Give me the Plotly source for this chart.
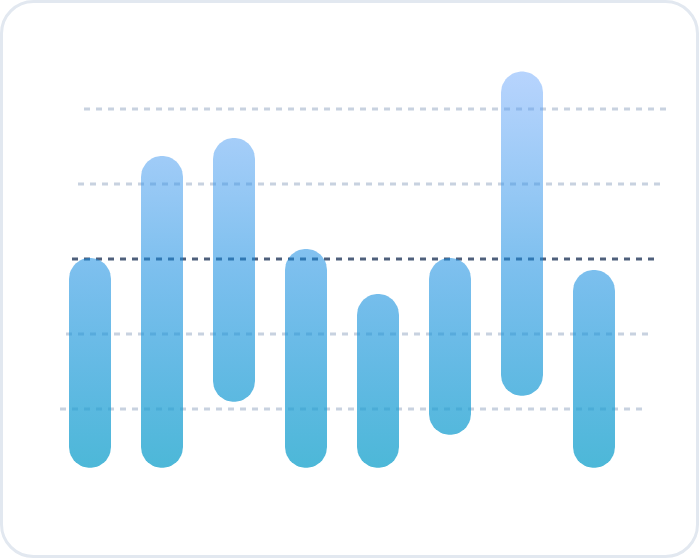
"""
Capsule range chart
Rounded floating bars with a shared vertical gradient and slanted dashed guides
"""
import numpy as np
import plotly.graph_objects as go

# data: each bar spans low -> high (values on the hidden y axis)
categories = ['A', 'B', 'C', 'D', 'E', 'F', 'G', 'H']
low_values = [4.3, 4.3, 21.9, 4.3, 4.3, 13.1, 23.5, 4.3]
high_values = [60.3, 87.5, 92.3, 62.7, 50.7, 60.3, 110.0, 57.1]

# guide lines
guide_levels = [20, 40, 60, 80, 100]
highlight_level = 60

W, H = 699, 558
X_RANGE = [-1.25, 8.4583]
Y_RANGE = [-19.73, 129.07]

BAR_PX = 42
px_per_x = W / (X_RANGE[1] - X_RANGE[0])
px_per_y = H / (Y_RANGE[1] - Y_RANGE[0])
rx = BAR_PX / 2 / px_per_x
ry = BAR_PX / 2 / px_per_y


def capsule(xc, lo, hi, n=24):
    """Outline of a vertical pill shape in data coordinates"""
    t_top = np.linspace(0, np.pi, n)
    t_bot = np.linspace(np.pi, 2 * np.pi, n)
    xs = list(xc + rx * np.cos(t_top)) + list(xc + rx * np.cos(t_bot))
    ys = list(hi - ry + ry * np.sin(t_top)) + list(lo + ry + ry * np.sin(t_bot))
    xs.append(xs[0])
    ys.append(ys[0])
    return xs, ys


fig = go.Figure()

# slanted dashed guides first, so the translucent bars sit over them
for lvl in guide_levels:
    shift = (lvl - 20) / 20 * 6 / px_per_x
    dark = lvl == highlight_level
    fig.add_trace(go.Scatter(
        x=[-0.4167 + shift, 7.72 + shift],
        y=[lvl, lvl],
        mode='lines',
        line=dict(color='#4f607c' if dark else '#c8d2e0', width=2.8, dash='6px,6px'),
        showlegend=False,
        hoverinfo='skip'
    ))

for i, (lo, hi) in enumerate(zip(low_values, high_values)):
    xs, ys = capsule(i, lo, hi)
    fig.add_trace(go.Scatter(
        x=xs,
        y=ys,
        mode='lines',
        line=dict(width=0),
        fill='toself',
        fillgradient=dict(
            type='vertical',
            colorscale=[[0, 'rgba(32,166,206,0.8)'],
                        [0.5, 'rgba(17,139,224,0.55)'],
                        [1, 'rgba(95,159,251,0.45)']],
            start=4.3,
            stop=110.0
        ),
        name=categories[i],
        showlegend=False,
        hoverinfo='skip'
    ))


# rounded card border in paper coords
def card_path(x0, y0, x1, y1, r):
    k = 0.5523
    def p(x, y):
        return f'{x / W:.5f},{1 - y / H:.5f}'
    d = (f'M {p(x0 + r, y0)} L {p(x1 - r, y0)} '
         f'C {p(x1 - r + k * r, y0)} {p(x1, y0 + r - k * r)} {p(x1, y0 + r)} '
         f'L {p(x1, y1 - r)} '
         f'C {p(x1, y1 - r + k * r)} {p(x1 - r + k * r, y1)} {p(x1 - r, y1)} '
         f'L {p(x0 + r, y1)} '
         f'C {p(x0 + r - k * r, y1)} {p(x0, y1 - r + k * r)} {p(x0, y1 - r)} '
         f'L {p(x0, y0 + r)} '
         f'C {p(x0, y0 + r - k * r)} {p(x0 + r - k * r, y0)} {p(x0 + r, y0)} Z')
    return d


fig.update_layout(
    width=W,
    height=H,
    margin=dict(l=0, r=0, t=0, b=0),
    paper_bgcolor='white',
    plot_bgcolor='rgba(0,0,0,0)',
    xaxis=dict(range=X_RANGE, visible=False, fixedrange=True),
    yaxis=dict(range=Y_RANGE, visible=False, fixedrange=True),
    shapes=[dict(
        type='path', xref='paper', yref='paper', layer='below',
        path=card_path(1.5, 1.5, 697.5, 556.5, 32),
        line=dict(color='#e2e8f0', width=3),
        fillcolor='white'
    )],
    showlegend=False
)

fig.write_html("out.html", config={'displayModeBar': False},
               post_script="document.body.style.margin='0';")
